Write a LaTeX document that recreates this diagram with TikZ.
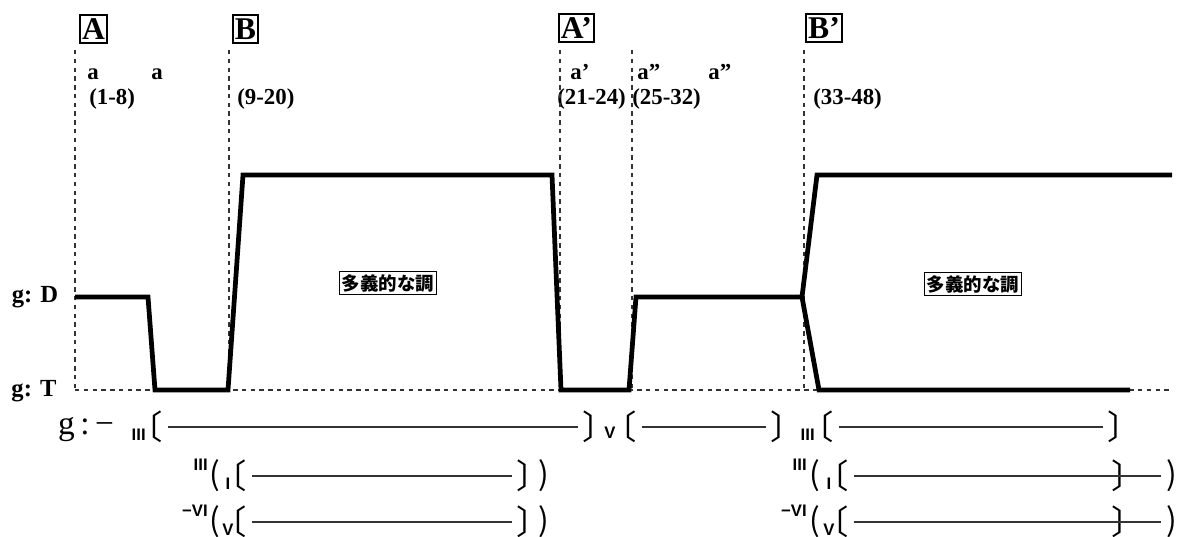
\documentclass[tikz,border=0pt]{standalone}
\usepackage{fontspec}
\setmainfont{Liberation Serif}
\newfontfamily\jpfont{Noto Sans CJK JP}
\newfontfamily\brfont[RawFeature=+palt]{Noto Sans CJK JP}
\newfontfamily\numfont{Liberation Sans}
\begin{document}
\begin{tikzpicture}[x=0.02cm,y=-0.02cm,
    tone/.style={line width=2.7pt},
    guide/.style={black!80,line width=0.8pt,dash pattern=on 2.5pt off 2.5pt},
    secbox/.style={draw,line width=0.9pt,inner xsep=1.2pt,inner ysep=2pt,
      text height=12pt,text depth=0pt,font=\fontsize{18}{18}\selectfont\bfseries},
    phrase/.style={inner sep=0pt,font=\fontsize{13}{15}\selectfont\bfseries},
    lvlbl/.style={font=\fontsize{14}{16}\selectfont\bfseries},
    keybox/.style={draw,line width=0.8pt,inner sep=1.5pt,font=\jpfont\bfseries\fontsize{10.5}{12}\selectfont},
    brk/.style={inner sep=0pt,font=\brfont\fontsize{19}{19}\selectfont},
    par/.style={inner sep=0pt,font=\brfont\fontsize{18}{18}\selectfont},
    degr/.style={inner sep=0pt,font=\numfont\bfseries\fontsize{9.5}{9.5}\selectfont},
    cline/.style={black!80,line width=0.8pt,shorten <=3pt,shorten >=3pt}]
  \useasboundingbox (0,0) rectangle (1181,537);

  % section marks
  \node[secbox] (sA)  at (93.5,29)  {A};
  \node[secbox] (sB)  at (245.5,29) {B};
  \node[secbox] (sA2) at (576.5,28) {A’};
  \node[secbox] (sB2) at (824,28)   {B’};

  % phrases and bar numbers
  \node[phrase,anchor=base west] (pa1) at (87,80)  {a};
  \node[phrase,anchor=base west] (pa2) at (151,80) {a};
  \node[phrase,anchor=base west] (pa3) at (570,80) {a’};
  \node[phrase,anchor=base west] (pa4) at (637,80) {a”};
  \node[phrase,anchor=base west] (pa5) at (708,80) {a”};
  \node[phrase,anchor=base west] (m1) at (89,105)  {(1-8)};
  \node[phrase,anchor=base west] (m2) at (237,105) {(9-20)};
  \node[phrase,anchor=base west] (m3) at (557,105) {(21-24)};
  \node[phrase,anchor=base west] (m4) at (632,105) {(25-32)};
  \node[phrase,anchor=base west] (m5) at (813,105) {(33-48)};

  % guide lines
  \foreach \gx in {75,229,560,632,804}
    \draw[guide] (\gx,50) -- (\gx,390);
  \draw[guide] (75,390) -- (1172,390);

  % tonal levels
  \node[lvlbl] (lD) at (35,297) {g: D};
  \node[lvlbl] (lT) at (34,391) {g: T};
  \draw[tone] (75,297) -- (148,297) -- (155,390) -- (228,390) -- (243,175)
    -- (552,175) -- (561,390) -- (629,390) -- (636,297) -- (802,297)
    -- (817,175) -- (1172,175);
  \draw[tone] (802,297) -- (819,390) -- (1130,390);
  \node[keybox] (k1) at (388,283) {多義的な調};
  \node[keybox] (k2) at (973,284) {多義的な調};

  % key line
  \node[font=\fontsize{19}{19}\selectfont] (gkey) at (86,430) {g\,:\,−};
  \node[degr,anchor=base east] (d1) at (146,440) {III};
  \node[brk] (o1) at (154,427) {〔};
  \node[brk] (c1) at (592,427) {〕};
  \node[degr,anchor=base] (d2) at (610,438) {V};
  \node[brk] (o2) at (628,427) {〔};
  \node[brk] (c2) at (780,427) {〕};
  \node[degr,anchor=base east] (d3) at (815,440) {III};
  \node[brk] (o3) at (825,427) {〔};
  \node[brk] (c3) at (1117,427) {〕};
  \draw[cline] (o1) -- (c1);
  \draw[cline] (o2) -- (c2);
  \draw[cline] (o3) -- (c3);

  % secondary readings
  \foreach \r/\yy/\up/\dn in {2/476/III/I, 3/522/{−VI}/V}{
    \node[degr,anchor=base east] (ul\r) at (208,\yy-6) {\up};
    \node[par] (pl\r) at (215,\yy) {(};
    \node[degr,anchor=base] (sl\r) at (228,\yy+13) {\dn};
    \node[brk] (ol\r) at (238,\yy) {〔};
    \node[brk] (cl\r) at (526,\yy) {〕};
    \node[par] (ql\r) at (544,\yy) {)};
    \draw[cline] (ol\r) -- (cl\r);
    \node[degr,anchor=base east] (ur\r) at (807,\yy-6) {\up};
    \node[par] (pr\r) at (815,\yy) {(};
    \node[degr,anchor=base] (sr\r) at (829,\yy+13) {\dn};
    \node[brk] (or\r) at (840,\yy) {〔};
    \node[brk] (cr\r) at (1121,\yy) {〕};
    \node[par] (qr\r) at (1172,\yy) {)};
    \draw[cline] (or\r) -- (qr\r);
  }
\end{tikzpicture}
\end{document}
